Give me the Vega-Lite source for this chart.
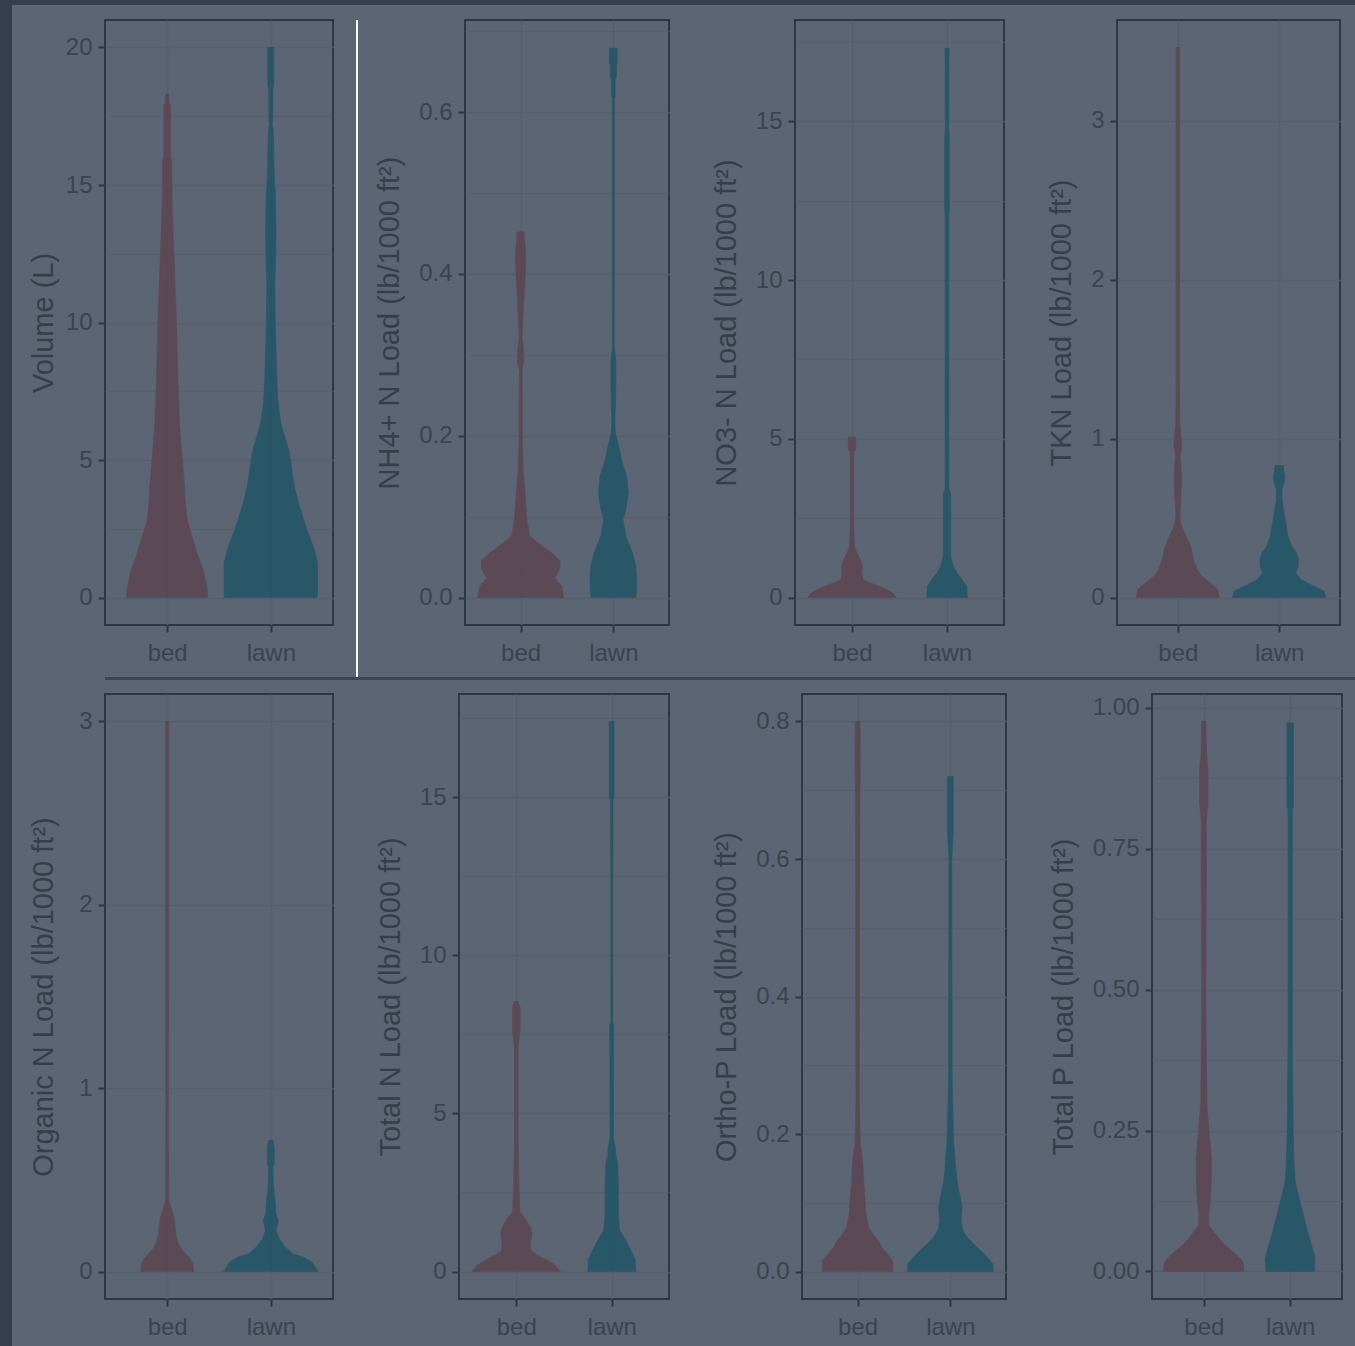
{
"$schema": "https://vega.github.io/schema/vega-lite/v6.json",
"background": "#5c6573",
"padding": 0,
"autosize": {"type": "pad"},
"datasets": {"d": [
{"v":"vol","g":"bed","y":0,"w":0.391},{"v":"vol","g":"bed","y":0.3,"w":0.386},{"v":"vol","g":"bed","y":0.7,"w":0.367},{"v":"vol","g":"bed","y":1.0,"w":0.347},{"v":"vol","g":"bed","y":1.6,"w":0.29},{"v":"vol","g":"bed","y":2.2,"w":0.241},{"v":"vol","g":"bed","y":2.8,"w":0.193},{"v":"vol","g":"bed","y":3.5,"w":0.174},{"v":"vol","g":"bed","y":4.0,"w":0.169},{"v":"vol","g":"bed","y":5.3,"w":0.14},{"v":"vol","g":"bed","y":6.2,"w":0.121},{"v":"vol","g":"bed","y":8.0,"w":0.103},{"v":"vol","g":"bed","y":10.0,"w":0.09},{"v":"vol","g":"bed","y":11.5,"w":0.075},{"v":"vol","g":"bed","y":13.0,"w":0.06},{"v":"vol","g":"bed","y":14.4,"w":0.048},{"v":"vol","g":"bed","y":15.9,"w":0.045},{"v":"vol","g":"bed","y":16.0,"w":0.033},{"v":"vol","g":"bed","y":17.9,"w":0.032},{"v":"vol","g":"bed","y":18.0,"w":0.017},{"v":"vol","g":"bed","y":18.3,"w":0.016},
{"v":"vol","g":"lawn","y":0,"w":0.449},{"v":"vol","g":"lawn","y":0.4,"w":0.451},{"v":"vol","g":"lawn","y":1.27,"w":0.451},{"v":"vol","g":"lawn","y":1.85,"w":0.41},{"v":"vol","g":"lawn","y":2.47,"w":0.347},{"v":"vol","g":"lawn","y":3.45,"w":0.265},{"v":"vol","g":"lawn","y":4.04,"w":0.227},{"v":"vol","g":"lawn","y":5.27,"w":0.179},{"v":"vol","g":"lawn","y":5.8,"w":0.14},{"v":"vol","g":"lawn","y":6.2,"w":0.106},{"v":"vol","g":"lawn","y":6.6,"w":0.087},{"v":"vol","g":"lawn","y":7.2,"w":0.068},{"v":"vol","g":"lawn","y":8.0,"w":0.058},{"v":"vol","g":"lawn","y":10.0,"w":0.043},{"v":"vol","g":"lawn","y":11.5,"w":0.039},{"v":"vol","g":"lawn","y":12.5,"w":0.048},{"v":"vol","g":"lawn","y":13.5,"w":0.05},{"v":"vol","g":"lawn","y":14.8,"w":0.043},{"v":"vol","g":"lawn","y":15.2,"w":0.034},{"v":"vol","g":"lawn","y":16.1,"w":0.029},{"v":"vol","g":"lawn","y":17.0,"w":0.024},{"v":"vol","g":"lawn","y":17.2,"w":0.014},{"v":"vol","g":"lawn","y":17.4,"w":0.019},{"v":"vol","g":"lawn","y":18.5,"w":0.019},{"v":"vol","g":"lawn","y":18.6,"w":0.029},{"v":"vol","g":"lawn","y":20.0,"w":0.029},
{"v":"nh4","g":"bed","y":0,"w":0.464},{"v":"nh4","g":"bed","y":0.014,"w":0.442},{"v":"nh4","g":"bed","y":0.024,"w":0.364},{"v":"nh4","g":"bed","y":0.035,"w":0.421},{"v":"nh4","g":"bed","y":0.045,"w":0.426},{"v":"nh4","g":"bed","y":0.055,"w":0.334},{"v":"nh4","g":"bed","y":0.065,"w":0.216},{"v":"nh4","g":"bed","y":0.076,"w":0.097},{"v":"nh4","g":"bed","y":0.096,"w":0.068},{"v":"nh4","g":"bed","y":0.117,"w":0.054},{"v":"nh4","g":"bed","y":0.137,"w":0.043},{"v":"nh4","g":"bed","y":0.158,"w":0.027},{"v":"nh4","g":"bed","y":0.199,"w":0.016},{"v":"nh4","g":"bed","y":0.228,"w":0.018},{"v":"nh4","g":"bed","y":0.281,"w":0.013},{"v":"nh4","g":"bed","y":0.29,"w":0.032},{"v":"nh4","g":"bed","y":0.305,"w":0.032},{"v":"nh4","g":"bed","y":0.323,"w":0.016},{"v":"nh4","g":"bed","y":0.343,"w":0.024},{"v":"nh4","g":"bed","y":0.384,"w":0.043},{"v":"nh4","g":"bed","y":0.417,"w":0.057},{"v":"nh4","g":"bed","y":0.434,"w":0.049},{"v":"nh4","g":"bed","y":0.452,"w":0.038},
{"v":"nh4","g":"lawn","y":0,"w":0.243},{"v":"nh4","g":"lawn","y":0.022,"w":0.252},{"v":"nh4","g":"lawn","y":0.039,"w":0.243},{"v":"nh4","g":"lawn","y":0.055,"w":0.207},{"v":"nh4","g":"lawn","y":0.076,"w":0.135},{"v":"nh4","g":"lawn","y":0.096,"w":0.104},{"v":"nh4","g":"lawn","y":0.109,"w":0.135},{"v":"nh4","g":"lawn","y":0.129,"w":0.162},{"v":"nh4","g":"lawn","y":0.15,"w":0.144},{"v":"nh4","g":"lawn","y":0.17,"w":0.09},{"v":"nh4","g":"lawn","y":0.191,"w":0.05},{"v":"nh4","g":"lawn","y":0.203,"w":0.022},{"v":"nh4","g":"lawn","y":0.22,"w":0.016},{"v":"nh4","g":"lawn","y":0.24,"w":0.023},{"v":"nh4","g":"lawn","y":0.269,"w":0.027},{"v":"nh4","g":"lawn","y":0.294,"w":0.027},{"v":"nh4","g":"lawn","y":0.31,"w":0.009},{"v":"nh4","g":"lawn","y":0.4,"w":0.011},{"v":"nh4","g":"lawn","y":0.617,"w":0.011},{"v":"nh4","g":"lawn","y":0.62,"w":0.02},{"v":"nh4","g":"lawn","y":0.64,"w":0.02},{"v":"nh4","g":"lawn","y":0.642,"w":0.032},{"v":"nh4","g":"lawn","y":0.658,"w":0.032},{"v":"nh4","g":"lawn","y":0.66,"w":0.041},{"v":"nh4","g":"lawn","y":0.679,"w":0.041},
{"v":"no3","g":"bed","y":0,"w":0.465},{"v":"no3","g":"bed","y":0.15,"w":0.43},{"v":"no3","g":"bed","y":0.3,"w":0.333},{"v":"no3","g":"bed","y":0.46,"w":0.193},{"v":"no3","g":"bed","y":0.57,"w":0.114},{"v":"no3","g":"bed","y":0.78,"w":0.105},{"v":"no3","g":"bed","y":0.98,"w":0.112},{"v":"no3","g":"bed","y":1.19,"w":0.088},{"v":"no3","g":"bed","y":1.4,"w":0.053},{"v":"no3","g":"bed","y":1.56,"w":0.028},{"v":"no3","g":"bed","y":2.14,"w":0.019},{"v":"no3","g":"bed","y":3.71,"w":0.018},{"v":"no3","g":"bed","y":4.6,"w":0.019},{"v":"no3","g":"bed","y":4.65,"w":0.04},{"v":"no3","g":"bed","y":5.05,"w":0.04},
{"v":"no3","g":"lawn","y":0,"w":0.214},{"v":"no3","g":"lawn","y":0.36,"w":0.207},{"v":"no3","g":"lawn","y":0.57,"w":0.158},{"v":"no3","g":"lawn","y":0.78,"w":0.105},{"v":"no3","g":"lawn","y":0.98,"w":0.07},{"v":"no3","g":"lawn","y":1.14,"w":0.053},{"v":"no3","g":"lawn","y":1.3,"w":0.039},{"v":"no3","g":"lawn","y":3.28,"w":0.039},{"v":"no3","g":"lawn","y":3.39,"w":0.021},{"v":"no3","g":"lawn","y":4.23,"w":0.018},{"v":"no3","g":"lawn","y":5.8,"w":0.021},{"v":"no3","g":"lawn","y":6.8,"w":0.021},{"v":"no3","g":"lawn","y":8.0,"w":0.018},{"v":"no3","g":"lawn","y":12.0,"w":0.018},{"v":"no3","g":"lawn","y":12.3,"w":0.025},{"v":"no3","g":"lawn","y":14.5,"w":0.025},{"v":"no3","g":"lawn","y":14.8,"w":0.018},{"v":"no3","g":"lawn","y":17.0,"w":0.02},{"v":"no3","g":"lawn","y":17.3,"w":0.022},
{"v":"tkn","g":"bed","y":0,"w":0.411},{"v":"tkn","g":"bed","y":0.05,"w":0.394},{"v":"tkn","g":"bed","y":0.092,"w":0.32},{"v":"tkn","g":"bed","y":0.134,"w":0.238},{"v":"tkn","g":"bed","y":0.176,"w":0.189},{"v":"tkn","g":"bed","y":0.239,"w":0.155},{"v":"tkn","g":"bed","y":0.302,"w":0.136},{"v":"tkn","g":"bed","y":0.365,"w":0.099},{"v":"tkn","g":"bed","y":0.428,"w":0.052},{"v":"tkn","g":"bed","y":0.47,"w":0.026},{"v":"tkn","g":"bed","y":0.533,"w":0.02},{"v":"tkn","g":"bed","y":0.66,"w":0.033},{"v":"tkn","g":"bed","y":0.742,"w":0.036},{"v":"tkn","g":"bed","y":0.826,"w":0.033},{"v":"tkn","g":"bed","y":0.889,"w":0.02},{"v":"tkn","g":"bed","y":0.95,"w":0.039},{"v":"tkn","g":"bed","y":1.01,"w":0.033},{"v":"tkn","g":"bed","y":1.1,"w":0.02},{"v":"tkn","g":"bed","y":1.37,"w":0.017},{"v":"tkn","g":"bed","y":2.0,"w":0.017},{"v":"tkn","g":"bed","y":3.46,"w":0.017},
{"v":"tkn","g":"lawn","y":0,"w":0.46},{"v":"tkn","g":"lawn","y":0.04,"w":0.444},{"v":"tkn","g":"lawn","y":0.07,"w":0.345},{"v":"tkn","g":"lawn","y":0.113,"w":0.214},{"v":"tkn","g":"lawn","y":0.155,"w":0.164},{"v":"tkn","g":"lawn","y":0.197,"w":0.189},{"v":"tkn","g":"lawn","y":0.239,"w":0.189},{"v":"tkn","g":"lawn","y":0.28,"w":0.173},{"v":"tkn","g":"lawn","y":0.323,"w":0.123},{"v":"tkn","g":"lawn","y":0.386,"w":0.087},{"v":"tkn","g":"lawn","y":0.449,"w":0.071},{"v":"tkn","g":"lawn","y":0.533,"w":0.048},{"v":"tkn","g":"lawn","y":0.617,"w":0.028},{"v":"tkn","g":"lawn","y":0.68,"w":0.028},{"v":"tkn","g":"lawn","y":0.72,"w":0.049},{"v":"tkn","g":"lawn","y":0.76,"w":0.057},{"v":"tkn","g":"lawn","y":0.8,"w":0.046},{"v":"tkn","g":"lawn","y":0.83,"w":0.041},
{"v":"orgn","g":"bed","y":0,"w":0.256},{"v":"orgn","g":"bed","y":0.042,"w":0.248},{"v":"orgn","g":"bed","y":0.069,"w":0.22},{"v":"orgn","g":"bed","y":0.097,"w":0.179},{"v":"orgn","g":"bed","y":0.133,"w":0.122},{"v":"orgn","g":"bed","y":0.187,"w":0.088},{"v":"orgn","g":"bed","y":0.242,"w":0.077},{"v":"orgn","g":"bed","y":0.297,"w":0.065},{"v":"orgn","g":"bed","y":0.34,"w":0.041},{"v":"orgn","g":"bed","y":0.388,"w":0.016},{"v":"orgn","g":"bed","y":0.93,"w":0.013},{"v":"orgn","g":"bed","y":1.48,"w":0.015},{"v":"orgn","g":"bed","y":3.0,"w":0.015},
{"v":"orgn","g":"lawn","y":0,"w":0.456},{"v":"orgn","g":"lawn","y":0.05,"w":0.399},{"v":"orgn","g":"lawn","y":0.08,"w":0.31},{"v":"orgn","g":"lawn","y":0.097,"w":0.212},{"v":"orgn","g":"lawn","y":0.133,"w":0.139},{"v":"orgn","g":"lawn","y":0.178,"w":0.081},{"v":"orgn","g":"lawn","y":0.224,"w":0.052},{"v":"orgn","g":"lawn","y":0.279,"w":0.073},{"v":"orgn","g":"lawn","y":0.315,"w":0.049},{"v":"orgn","g":"lawn","y":0.388,"w":0.041},{"v":"orgn","g":"lawn","y":0.46,"w":0.027},{"v":"orgn","g":"lawn","y":0.57,"w":0.02},{"v":"orgn","g":"lawn","y":0.588,"w":0.033},{"v":"orgn","g":"lawn","y":0.679,"w":0.033},{"v":"orgn","g":"lawn","y":0.716,"w":0.021},
{"v":"totn","g":"bed","y":0,"w":0.463},{"v":"totn","g":"bed","y":0.19,"w":0.41},{"v":"totn","g":"bed","y":0.35,"w":0.332},{"v":"totn","g":"bed","y":0.51,"w":0.227},{"v":"totn","g":"bed","y":0.66,"w":0.154},{"v":"totn","g":"bed","y":0.88,"w":0.148},{"v":"totn","g":"bed","y":1.19,"w":0.166},{"v":"totn","g":"bed","y":1.4,"w":0.148},{"v":"totn","g":"bed","y":1.67,"w":0.096},{"v":"totn","g":"bed","y":1.88,"w":0.037},{"v":"totn","g":"bed","y":3.93,"w":0.019},{"v":"totn","g":"bed","y":7.1,"w":0.019},{"v":"totn","g":"bed","y":7.63,"w":0.04},{"v":"totn","g":"bed","y":8.36,"w":0.04},{"v":"totn","g":"bed","y":8.55,"w":0.019},
{"v":"totn","g":"lawn","y":0,"w":0.251},{"v":"totn","g":"lawn","y":0.4,"w":0.244},{"v":"totn","g":"lawn","y":0.72,"w":0.192},{"v":"totn","g":"lawn","y":1.03,"w":0.14},{"v":"totn","g":"lawn","y":1.3,"w":0.084},{"v":"totn","g":"lawn","y":1.77,"w":0.07},{"v":"totn","g":"lawn","y":2.83,"w":0.07},{"v":"totn","g":"lawn","y":3.46,"w":0.061},{"v":"totn","g":"lawn","y":3.67,"w":0.042},{"v":"totn","g":"lawn","y":3.94,"w":0.038},{"v":"totn","g":"lawn","y":4.2,"w":0.017},{"v":"totn","g":"lawn","y":7.8,"w":0.021},{"v":"totn","g":"lawn","y":7.9,"w":0.009},{"v":"totn","g":"lawn","y":9.2,"w":0.009},{"v":"totn","g":"lawn","y":14.9,"w":0.012},{"v":"totn","g":"lawn","y":15.0,"w":0.025},{"v":"totn","g":"lawn","y":17.4,"w":0.025},
{"v":"orthop","g":"bed","y":0,"w":0.378},{"v":"orthop","g":"bed","y":0.016,"w":0.378},{"v":"orthop","g":"bed","y":0.026,"w":0.318},{"v":"orthop","g":"bed","y":0.035,"w":0.261},{"v":"orthop","g":"bed","y":0.045,"w":0.221},{"v":"orthop","g":"bed","y":0.055,"w":0.162},{"v":"orthop","g":"bed","y":0.064,"w":0.119},{"v":"orthop","g":"bed","y":0.084,"w":0.09},{"v":"orthop","g":"bed","y":0.103,"w":0.081},{"v":"orthop","g":"bed","y":0.127,"w":0.067},{"v":"orthop","g":"bed","y":0.151,"w":0.059},{"v":"orthop","g":"bed","y":0.171,"w":0.045},{"v":"orthop","g":"bed","y":0.185,"w":0.029},{"v":"orthop","g":"bed","y":0.248,"w":0.018},{"v":"orthop","g":"bed","y":0.393,"w":0.02},{"v":"orthop","g":"bed","y":0.55,"w":0.02},{"v":"orthop","g":"bed","y":0.7,"w":0.025},{"v":"orthop","g":"bed","y":0.75,"w":0.03},{"v":"orthop","g":"bed","y":0.8,"w":0.025},
{"v":"orthop","g":"lawn","y":0,"w":0.462},{"v":"orthop","g":"lawn","y":0.011,"w":0.458},{"v":"orthop","g":"lawn","y":0.021,"w":0.396},{"v":"orthop","g":"lawn","y":0.031,"w":0.324},{"v":"orthop","g":"lawn","y":0.04,"w":0.251},{"v":"orthop","g":"lawn","y":0.05,"w":0.18},{"v":"orthop","g":"lawn","y":0.06,"w":0.135},{"v":"orthop","g":"lawn","y":0.074,"w":0.117},{"v":"orthop","g":"lawn","y":0.094,"w":0.126},{"v":"orthop","g":"lawn","y":0.108,"w":0.108},{"v":"orthop","g":"lawn","y":0.127,"w":0.077},{"v":"orthop","g":"lawn","y":0.151,"w":0.057},{"v":"orthop","g":"lawn","y":0.175,"w":0.045},{"v":"orthop","g":"lawn","y":0.19,"w":0.036},{"v":"orthop","g":"lawn","y":0.248,"w":0.025},{"v":"orthop","g":"lawn","y":0.296,"w":0.018},{"v":"orthop","g":"lawn","y":0.393,"w":0.018},{"v":"orthop","g":"lawn","y":0.6,"w":0.016},{"v":"orthop","g":"lawn","y":0.64,"w":0.032},{"v":"orthop","g":"lawn","y":0.72,"w":0.032},
{"v":"totp","g":"bed","y":0,"w":0.467},{"v":"totp","g":"bed","y":0.017,"w":0.453},{"v":"totp","g":"bed","y":0.026,"w":0.405},{"v":"totp","g":"bed","y":0.035,"w":0.338},{"v":"totp","g":"bed","y":0.046,"w":0.251},{"v":"totp","g":"bed","y":0.058,"w":0.177},{"v":"totp","g":"bed","y":0.07,"w":0.12},{"v":"totp","g":"bed","y":0.082,"w":0.058},{"v":"totp","g":"bed","y":0.1,"w":0.058},{"v":"totp","g":"bed","y":0.129,"w":0.077},{"v":"totp","g":"bed","y":0.159,"w":0.087},{"v":"totp","g":"bed","y":0.2,"w":0.09},{"v":"totp","g":"bed","y":0.25,"w":0.06},{"v":"totp","g":"bed","y":0.3,"w":0.035},{"v":"totp","g":"bed","y":0.48,"w":0.023},{"v":"totp","g":"bed","y":0.7,"w":0.03},{"v":"totp","g":"bed","y":0.8,"w":0.029},{"v":"totp","g":"bed","y":0.83,"w":0.049},{"v":"totp","g":"bed","y":0.89,"w":0.049},{"v":"totp","g":"bed","y":0.92,"w":0.032},{"v":"totp","g":"bed","y":0.976,"w":0.023},
{"v":"totp","g":"lawn","y":0,"w":0.28},{"v":"totp","g":"lawn","y":0.023,"w":0.289},{"v":"totp","g":"lawn","y":0.04,"w":0.26},{"v":"totp","g":"lawn","y":0.07,"w":0.203},{"v":"totp","g":"lawn","y":0.1,"w":0.154},{"v":"totp","g":"lawn","y":0.129,"w":0.106},{"v":"totp","g":"lawn","y":0.159,"w":0.058},{"v":"totp","g":"lawn","y":0.19,"w":0.046},{"v":"totp","g":"lawn","y":0.25,"w":0.035},{"v":"totp","g":"lawn","y":0.4,"w":0.025},{"v":"totp","g":"lawn","y":0.82,"w":0.025},{"v":"totp","g":"lawn","y":0.823,"w":0.038},{"v":"totp","g":"lawn","y":0.973,"w":0.038}
]},
"spacing": 0,
"hconcat": [
{"width": 12, "height": 1346, "data": {"values": [{}]}, "mark": {"type": "point", "opacity": 0, "size": 0, "strokeWidth": 0}, "view": {"fill": "#353f50", "stroke": null}},
{"spacing": 0, "vconcat": [
 {"width": 1343, "height": 5, "data": {"values": [{}]}, "mark": {"type": "point", "opacity": 0, "size": 0, "strokeWidth": 0}, "view": {"fill": "#353f50", "stroke": null}},
 {"spacing": 0, "hconcat": [
  {"width": 16, "height": 1, "data": {"values": [{}]}, "mark": {"type": "point", "opacity": 0, "size": 0, "strokeWidth": 0}, "view": {"stroke": null}},
  {"spacing": 0, "vconcat": [
   {"width": 1, "height": 13, "data": {"values": [{}]}, "mark": {"type": "point", "opacity": 0, "size": 0, "strokeWidth": 0}, "view": {"stroke": null}},
   {"spacing": 0, "vconcat": [
    {"spacing": 22, "hconcat": [
     {"width": 228, "height": 605, "data": {"name": "d"}, "transform": [{"filter": "datum.v === 'vol'"}],
      "layer": [
       {"transform": [{"filter": "datum.g === 'bed'"}], "mark": {"type": "area", "orient": "horizontal", "color": "#5b4a55", "stroke": "#5b4a55", "strokeWidth": 0.6, "opacity": 1},
        "encoding": {"y": {"field": "y", "type": "quantitative", "scale": {"domain": [-1, 21], "nice": false, "zero": false},
          "axis": {"title": "Volume (L)", "titlePadding": 7, "values": [0,2.5,5,7.5,10,12.5,15,17.5,20], "format": "d", "labelExpr": "abs(datum.value/5-round(datum.value/5))<1e-6 ? datum.label : ''", "tickOpacity": {"condition": {"test": "abs(datum.value/5-round(datum.value/5))<1e-6", "value": 1}, "value": 0}, "gridWidth": {"condition": {"test": "abs(datum.value/5-round(datum.value/5))<1e-6", "value": 1.5}, "value": 0.8}}},
         "x": {"field": "w", "type": "quantitative", "scale": {"domain": [-0.6, 1.6], "nice": false, "zero": false}, "axis": null}, "x2": {"datum": 0}}},
       {"transform": [{"filter": "datum.g === 'bed'"}], "mark": {"type": "area", "orient": "horizontal", "color": "#5b4a55", "stroke": "#5b4a55", "strokeWidth": 0.6, "opacity": 1},
        "encoding": {"y": {"field": "y", "type": "quantitative"}, "x": {"field": "w", "type": "quantitative", "scale": {"domain": [-1.6, 0.6], "reverse": true, "nice": false, "zero": false}, "axis": null}, "x2": {"datum": 0}}},
       {"transform": [{"filter": "datum.g === 'lawn'"}], "mark": {"type": "area", "orient": "horizontal", "color": "#285868", "stroke": "#285868", "strokeWidth": 0.6, "opacity": 1},
        "encoding": {"y": {"field": "y", "type": "quantitative"}, "x": {"field": "w", "type": "quantitative", "scale": {"domain": [-1.6, 0.6], "nice": false, "zero": false}, "axis": null}, "x2": {"datum": 0}}},
       {"transform": [{"filter": "datum.g === 'lawn'"}], "mark": {"type": "area", "orient": "horizontal", "color": "#285868", "stroke": "#285868", "strokeWidth": 0.6, "opacity": 1},
        "encoding": {"y": {"field": "y", "type": "quantitative"}, "x": {"field": "w", "type": "quantitative", "scale": {"domain": [-0.6, 1.6], "reverse": true, "nice": false, "zero": false}, "axis": null}, "x2": {"datum": 0}}},
       {"mark": {"type": "point", "opacity": 0, "size": 0, "strokeWidth": 0}, "encoding": {"x": {"field": "g", "type": "nominal", "scale": {"type": "point", "domain": ["bed", "lawn"], "padding": 0.6}, "axis": {"title": null, "grid": true, "labelAngle": 0, "labelPadding": 9}}, "y": {"field": "y", "type": "quantitative"}}}
      ], "resolve": {"scale": {"x": "independent"}}},
     {"spacing": 16, "hconcat": [
      {"width": 2, "height": 657, "data": {"values": [{}]}, "mark": {"type": "point", "opacity": 0, "size": 0, "strokeWidth": 0}, "view": {"fill": "#ffffff", "stroke": null}},
      {"spacing": 41, "hconcat": [
     {"width": 204, "height": 605, "data": {"name": "d"}, "transform": [{"filter": "datum.v === 'nh4'"}],
      "layer": [
       {"transform": [{"filter": "datum.g === 'bed'"}], "mark": {"type": "area", "orient": "horizontal", "color": "#5b4a55", "stroke": "#5b4a55", "strokeWidth": 0.6, "opacity": 1},
        "encoding": {"y": {"field": "y", "type": "quantitative", "scale": {"domain": [-0.034, 0.714], "nice": false, "zero": false},
          "axis": {"title": "NH4+ N Load (lb/1000 ft²)", "values": [0,0.1,0.2,0.3,0.4,0.5,0.6,0.7], "format": ".1f", "labelExpr": "abs(datum.value/0.2-round(datum.value/0.2))<1e-6 ? datum.label : ''", "tickOpacity": {"condition": {"test": "abs(datum.value/0.2-round(datum.value/0.2))<1e-6", "value": 1}, "value": 0}, "gridWidth": {"condition": {"test": "abs(datum.value/0.2-round(datum.value/0.2))<1e-6", "value": 1.5}, "value": 0.8}}},
         "x": {"field": "w", "type": "quantitative", "scale": {"domain": [-0.6, 1.6], "nice": false, "zero": false}, "axis": null}, "x2": {"datum": 0}}},
       {"transform": [{"filter": "datum.g === 'bed'"}], "mark": {"type": "area", "orient": "horizontal", "color": "#5b4a55", "stroke": "#5b4a55", "strokeWidth": 0.6, "opacity": 1},
        "encoding": {"y": {"field": "y", "type": "quantitative"}, "x": {"field": "w", "type": "quantitative", "scale": {"domain": [-1.6, 0.6], "reverse": true, "nice": false, "zero": false}, "axis": null}, "x2": {"datum": 0}}},
       {"transform": [{"filter": "datum.g === 'lawn'"}], "mark": {"type": "area", "orient": "horizontal", "color": "#285868", "stroke": "#285868", "strokeWidth": 0.6, "opacity": 1},
        "encoding": {"y": {"field": "y", "type": "quantitative"}, "x": {"field": "w", "type": "quantitative", "scale": {"domain": [-1.6, 0.6], "nice": false, "zero": false}, "axis": null}, "x2": {"datum": 0}}},
       {"transform": [{"filter": "datum.g === 'lawn'"}], "mark": {"type": "area", "orient": "horizontal", "color": "#285868", "stroke": "#285868", "strokeWidth": 0.6, "opacity": 1},
        "encoding": {"y": {"field": "y", "type": "quantitative"}, "x": {"field": "w", "type": "quantitative", "scale": {"domain": [-0.6, 1.6], "reverse": true, "nice": false, "zero": false}, "axis": null}, "x2": {"datum": 0}}},
       {"mark": {"type": "point", "opacity": 0, "size": 0, "strokeWidth": 0}, "encoding": {"x": {"field": "g", "type": "nominal", "scale": {"type": "point", "domain": ["bed", "lawn"], "padding": 0.6}, "axis": {"title": null, "grid": true, "labelAngle": 0, "labelPadding": 9}}, "y": {"field": "y", "type": "quantitative"}}}
      ], "resolve": {"scale": {"x": "independent"}}},
     {"width": 209, "height": 605, "data": {"name": "d"}, "transform": [{"filter": "datum.v === 'no3'"}],
      "layer": [
       {"transform": [{"filter": "datum.g === 'bed'"}], "mark": {"type": "area", "orient": "horizontal", "color": "#5b4a55", "stroke": "#5b4a55", "strokeWidth": 0.6, "opacity": 1},
        "encoding": {"y": {"field": "y", "type": "quantitative", "scale": {"domain": [-0.866, 18.19], "nice": false, "zero": false},
          "axis": {"title": "NO3- N Load (lb/1000 ft²)", "values": [0,2.5,5,7.5,10,12.5,15,17.5], "format": "d", "labelExpr": "abs(datum.value/5-round(datum.value/5))<1e-6 ? datum.label : ''", "tickOpacity": {"condition": {"test": "abs(datum.value/5-round(datum.value/5))<1e-6", "value": 1}, "value": 0}, "gridWidth": {"condition": {"test": "abs(datum.value/5-round(datum.value/5))<1e-6", "value": 1.5}, "value": 0.8}}},
         "x": {"field": "w", "type": "quantitative", "scale": {"domain": [-0.6, 1.6], "nice": false, "zero": false}, "axis": null}, "x2": {"datum": 0}}},
       {"transform": [{"filter": "datum.g === 'bed'"}], "mark": {"type": "area", "orient": "horizontal", "color": "#5b4a55", "stroke": "#5b4a55", "strokeWidth": 0.6, "opacity": 1},
        "encoding": {"y": {"field": "y", "type": "quantitative"}, "x": {"field": "w", "type": "quantitative", "scale": {"domain": [-1.6, 0.6], "reverse": true, "nice": false, "zero": false}, "axis": null}, "x2": {"datum": 0}}},
       {"transform": [{"filter": "datum.g === 'lawn'"}], "mark": {"type": "area", "orient": "horizontal", "color": "#285868", "stroke": "#285868", "strokeWidth": 0.6, "opacity": 1},
        "encoding": {"y": {"field": "y", "type": "quantitative"}, "x": {"field": "w", "type": "quantitative", "scale": {"domain": [-1.6, 0.6], "nice": false, "zero": false}, "axis": null}, "x2": {"datum": 0}}},
       {"transform": [{"filter": "datum.g === 'lawn'"}], "mark": {"type": "area", "orient": "horizontal", "color": "#285868", "stroke": "#285868", "strokeWidth": 0.6, "opacity": 1},
        "encoding": {"y": {"field": "y", "type": "quantitative"}, "x": {"field": "w", "type": "quantitative", "scale": {"domain": [-0.6, 1.6], "reverse": true, "nice": false, "zero": false}, "axis": null}, "x2": {"datum": 0}}},
       {"mark": {"type": "point", "opacity": 0, "size": 0, "strokeWidth": 0}, "encoding": {"x": {"field": "g", "type": "nominal", "scale": {"type": "point", "domain": ["bed", "lawn"], "padding": 0.6}, "axis": {"title": null, "grid": true, "labelAngle": 0, "labelPadding": 9}}, "y": {"field": "y", "type": "quantitative"}}}
      ], "resolve": {"scale": {"x": "independent"}}},
     {"width": 223, "height": 605, "data": {"name": "d"}, "transform": [{"filter": "datum.v === 'tkn'"}],
      "layer": [
       {"transform": [{"filter": "datum.g === 'bed'"}], "mark": {"type": "area", "orient": "horizontal", "color": "#5b4a55", "stroke": "#5b4a55", "strokeWidth": 0.6, "opacity": 1},
        "encoding": {"y": {"field": "y", "type": "quantitative", "scale": {"domain": [-0.173, 3.633], "nice": false, "zero": false},
          "axis": {"title": "TKN Load (lb/1000 ft²)", "values": [0,0.5,1,1.5,2,2.5,3,3.5], "format": "d", "labelExpr": "abs(datum.value-round(datum.value))<1e-6 ? datum.label : ''", "tickOpacity": {"condition": {"test": "abs(datum.value-round(datum.value))<1e-6", "value": 1}, "value": 0}, "gridWidth": {"condition": {"test": "abs(datum.value-round(datum.value))<1e-6", "value": 1.5}, "value": 0.8}}},
         "x": {"field": "w", "type": "quantitative", "scale": {"domain": [-0.6, 1.6], "nice": false, "zero": false}, "axis": null}, "x2": {"datum": 0}}},
       {"transform": [{"filter": "datum.g === 'bed'"}], "mark": {"type": "area", "orient": "horizontal", "color": "#5b4a55", "stroke": "#5b4a55", "strokeWidth": 0.6, "opacity": 1},
        "encoding": {"y": {"field": "y", "type": "quantitative"}, "x": {"field": "w", "type": "quantitative", "scale": {"domain": [-1.6, 0.6], "reverse": true, "nice": false, "zero": false}, "axis": null}, "x2": {"datum": 0}}},
       {"transform": [{"filter": "datum.g === 'lawn'"}], "mark": {"type": "area", "orient": "horizontal", "color": "#285868", "stroke": "#285868", "strokeWidth": 0.6, "opacity": 1},
        "encoding": {"y": {"field": "y", "type": "quantitative"}, "x": {"field": "w", "type": "quantitative", "scale": {"domain": [-1.6, 0.6], "nice": false, "zero": false}, "axis": null}, "x2": {"datum": 0}}},
       {"transform": [{"filter": "datum.g === 'lawn'"}], "mark": {"type": "area", "orient": "horizontal", "color": "#285868", "stroke": "#285868", "strokeWidth": 0.6, "opacity": 1},
        "encoding": {"y": {"field": "y", "type": "quantitative"}, "x": {"field": "w", "type": "quantitative", "scale": {"domain": [-0.6, 1.6], "reverse": true, "nice": false, "zero": false}, "axis": null}, "x2": {"datum": 0}}},
       {"mark": {"type": "point", "opacity": 0, "size": 0, "strokeWidth": 0}, "encoding": {"x": {"field": "g", "type": "nominal", "scale": {"type": "point", "domain": ["bed", "lawn"], "padding": 0.6}, "axis": {"title": null, "grid": true, "labelAngle": 0, "labelPadding": 9}}, "y": {"field": "y", "type": "quantitative"}}}
      ], "resolve": {"scale": {"x": "independent"}}}
      ]}
     ]}
    ]},
    {"spacing": 13, "vconcat": [
     {"width": 1250, "height": 3, "data": {"values": [{}]}, "mark": {"type": "point", "opacity": 0, "size": 0, "strokeWidth": 0}, "view": {"fill": "#3d4655", "stroke": null}},
    {"spacing": 41, "hconcat": [
     {"width": 228, "height": 605, "data": {"name": "d"}, "transform": [{"filter": "datum.v === 'orgn'"}],
      "layer": [
       {"transform": [{"filter": "datum.g === 'bed'"}], "mark": {"type": "area", "orient": "horizontal", "color": "#5b4a55", "stroke": "#5b4a55", "strokeWidth": 0.6, "opacity": 1},
        "encoding": {"y": {"field": "y", "type": "quantitative", "scale": {"domain": [-0.15, 3.15], "nice": false, "zero": false},
          "axis": {"title": "Organic N Load (lb/1000 ft²)", "titlePadding": 20, "values": [0,0.5,1,1.5,2,2.5,3], "format": "d", "labelExpr": "abs(datum.value-round(datum.value))<1e-6 ? datum.label : ''", "tickOpacity": {"condition": {"test": "abs(datum.value-round(datum.value))<1e-6", "value": 1}, "value": 0}, "gridWidth": {"condition": {"test": "abs(datum.value-round(datum.value))<1e-6", "value": 1.5}, "value": 0.8}}},
         "x": {"field": "w", "type": "quantitative", "scale": {"domain": [-0.6, 1.6], "nice": false, "zero": false}, "axis": null}, "x2": {"datum": 0}}},
       {"transform": [{"filter": "datum.g === 'bed'"}], "mark": {"type": "area", "orient": "horizontal", "color": "#5b4a55", "stroke": "#5b4a55", "strokeWidth": 0.6, "opacity": 1},
        "encoding": {"y": {"field": "y", "type": "quantitative"}, "x": {"field": "w", "type": "quantitative", "scale": {"domain": [-1.6, 0.6], "reverse": true, "nice": false, "zero": false}, "axis": null}, "x2": {"datum": 0}}},
       {"transform": [{"filter": "datum.g === 'lawn'"}], "mark": {"type": "area", "orient": "horizontal", "color": "#285868", "stroke": "#285868", "strokeWidth": 0.6, "opacity": 1},
        "encoding": {"y": {"field": "y", "type": "quantitative"}, "x": {"field": "w", "type": "quantitative", "scale": {"domain": [-1.6, 0.6], "nice": false, "zero": false}, "axis": null}, "x2": {"datum": 0}}},
       {"transform": [{"filter": "datum.g === 'lawn'"}], "mark": {"type": "area", "orient": "horizontal", "color": "#285868", "stroke": "#285868", "strokeWidth": 0.6, "opacity": 1},
        "encoding": {"y": {"field": "y", "type": "quantitative"}, "x": {"field": "w", "type": "quantitative", "scale": {"domain": [-0.6, 1.6], "reverse": true, "nice": false, "zero": false}, "axis": null}, "x2": {"datum": 0}}},
       {"mark": {"type": "point", "opacity": 0, "size": 0, "strokeWidth": 0}, "encoding": {"x": {"field": "g", "type": "nominal", "scale": {"type": "point", "domain": ["bed", "lawn"], "padding": 0.6}, "axis": {"title": null, "grid": true, "labelAngle": 0, "labelPadding": 9}}, "y": {"field": "y", "type": "quantitative"}}}
      ], "resolve": {"scale": {"x": "independent"}}},
     {"width": 210, "height": 605, "data": {"name": "d"}, "transform": [{"filter": "datum.v === 'totn'"}],
      "layer": [
       {"transform": [{"filter": "datum.g === 'bed'"}], "mark": {"type": "area", "orient": "horizontal", "color": "#5b4a55", "stroke": "#5b4a55", "strokeWidth": 0.6, "opacity": 1},
        "encoding": {"y": {"field": "y", "type": "quantitative", "scale": {"domain": [-0.87, 18.27], "nice": false, "zero": false},
          "axis": {"title": "Total N Load (lb/1000 ft²)", "values": [0,2.5,5,7.5,10,12.5,15,17.5], "format": "d", "labelExpr": "abs(datum.value/5-round(datum.value/5))<1e-6 ? datum.label : ''", "tickOpacity": {"condition": {"test": "abs(datum.value/5-round(datum.value/5))<1e-6", "value": 1}, "value": 0}, "gridWidth": {"condition": {"test": "abs(datum.value/5-round(datum.value/5))<1e-6", "value": 1.5}, "value": 0.8}}},
         "x": {"field": "w", "type": "quantitative", "scale": {"domain": [-0.6, 1.6], "nice": false, "zero": false}, "axis": null}, "x2": {"datum": 0}}},
       {"transform": [{"filter": "datum.g === 'bed'"}], "mark": {"type": "area", "orient": "horizontal", "color": "#5b4a55", "stroke": "#5b4a55", "strokeWidth": 0.6, "opacity": 1},
        "encoding": {"y": {"field": "y", "type": "quantitative"}, "x": {"field": "w", "type": "quantitative", "scale": {"domain": [-1.6, 0.6], "reverse": true, "nice": false, "zero": false}, "axis": null}, "x2": {"datum": 0}}},
       {"transform": [{"filter": "datum.g === 'lawn'"}], "mark": {"type": "area", "orient": "horizontal", "color": "#285868", "stroke": "#285868", "strokeWidth": 0.6, "opacity": 1},
        "encoding": {"y": {"field": "y", "type": "quantitative"}, "x": {"field": "w", "type": "quantitative", "scale": {"domain": [-1.6, 0.6], "nice": false, "zero": false}, "axis": null}, "x2": {"datum": 0}}},
       {"transform": [{"filter": "datum.g === 'lawn'"}], "mark": {"type": "area", "orient": "horizontal", "color": "#285868", "stroke": "#285868", "strokeWidth": 0.6, "opacity": 1},
        "encoding": {"y": {"field": "y", "type": "quantitative"}, "x": {"field": "w", "type": "quantitative", "scale": {"domain": [-0.6, 1.6], "reverse": true, "nice": false, "zero": false}, "axis": null}, "x2": {"datum": 0}}},
       {"mark": {"type": "point", "opacity": 0, "size": 0, "strokeWidth": 0}, "encoding": {"x": {"field": "g", "type": "nominal", "scale": {"type": "point", "domain": ["bed", "lawn"], "padding": 0.6}, "axis": {"title": null, "grid": true, "labelAngle": 0, "labelPadding": 9}}, "y": {"field": "y", "type": "quantitative"}}}
      ], "resolve": {"scale": {"x": "independent"}}},
     {"width": 204, "height": 605, "data": {"name": "d"}, "transform": [{"filter": "datum.v === 'orthop'"}],
      "layer": [
       {"transform": [{"filter": "datum.g === 'bed'"}], "mark": {"type": "area", "orient": "horizontal", "color": "#5b4a55", "stroke": "#5b4a55", "strokeWidth": 0.6, "opacity": 1},
        "encoding": {"y": {"field": "y", "type": "quantitative", "scale": {"domain": [-0.04, 0.84], "nice": false, "zero": false},
          "axis": {"title": "Ortho-P Load (lb/1000 ft²)", "values": [0,0.1,0.2,0.3,0.4,0.5,0.6,0.7,0.8], "format": ".1f", "labelExpr": "abs(datum.value/0.2-round(datum.value/0.2))<1e-6 ? datum.label : ''", "tickOpacity": {"condition": {"test": "abs(datum.value/0.2-round(datum.value/0.2))<1e-6", "value": 1}, "value": 0}, "gridWidth": {"condition": {"test": "abs(datum.value/0.2-round(datum.value/0.2))<1e-6", "value": 1.5}, "value": 0.8}}},
         "x": {"field": "w", "type": "quantitative", "scale": {"domain": [-0.6, 1.6], "nice": false, "zero": false}, "axis": null}, "x2": {"datum": 0}}},
       {"transform": [{"filter": "datum.g === 'bed'"}], "mark": {"type": "area", "orient": "horizontal", "color": "#5b4a55", "stroke": "#5b4a55", "strokeWidth": 0.6, "opacity": 1},
        "encoding": {"y": {"field": "y", "type": "quantitative"}, "x": {"field": "w", "type": "quantitative", "scale": {"domain": [-1.6, 0.6], "reverse": true, "nice": false, "zero": false}, "axis": null}, "x2": {"datum": 0}}},
       {"transform": [{"filter": "datum.g === 'lawn'"}], "mark": {"type": "area", "orient": "horizontal", "color": "#285868", "stroke": "#285868", "strokeWidth": 0.6, "opacity": 1},
        "encoding": {"y": {"field": "y", "type": "quantitative"}, "x": {"field": "w", "type": "quantitative", "scale": {"domain": [-1.6, 0.6], "nice": false, "zero": false}, "axis": null}, "x2": {"datum": 0}}},
       {"transform": [{"filter": "datum.g === 'lawn'"}], "mark": {"type": "area", "orient": "horizontal", "color": "#285868", "stroke": "#285868", "strokeWidth": 0.6, "opacity": 1},
        "encoding": {"y": {"field": "y", "type": "quantitative"}, "x": {"field": "w", "type": "quantitative", "scale": {"domain": [-0.6, 1.6], "reverse": true, "nice": false, "zero": false}, "axis": null}, "x2": {"datum": 0}}},
       {"mark": {"type": "point", "opacity": 0, "size": 0, "strokeWidth": 0}, "encoding": {"x": {"field": "g", "type": "nominal", "scale": {"type": "point", "domain": ["bed", "lawn"], "padding": 0.6}, "axis": {"title": null, "grid": true, "labelAngle": 0, "labelPadding": 9}}, "y": {"field": "y", "type": "quantitative"}}}
      ], "resolve": {"scale": {"x": "independent"}}},
     {"width": 190, "height": 605, "data": {"name": "d"}, "transform": [{"filter": "datum.v === 'totp'"}],
      "layer": [
       {"transform": [{"filter": "datum.g === 'bed'"}], "mark": {"type": "area", "orient": "horizontal", "color": "#5b4a55", "stroke": "#5b4a55", "strokeWidth": 0.6, "opacity": 1},
        "encoding": {"y": {"field": "y", "type": "quantitative", "scale": {"domain": [-0.0488, 1.0244], "nice": false, "zero": false},
          "axis": {"title": "Total P Load (lb/1000 ft²)", "values": [0,0.125,0.25,0.375,0.5,0.625,0.75,0.875,1], "format": ".2f", "labelExpr": "abs(datum.value/0.25-round(datum.value/0.25))<1e-6 ? datum.label : ''", "tickOpacity": {"condition": {"test": "abs(datum.value/0.25-round(datum.value/0.25))<1e-6", "value": 1}, "value": 0}, "gridWidth": {"condition": {"test": "abs(datum.value/0.25-round(datum.value/0.25))<1e-6", "value": 1.5}, "value": 0.8}}},
         "x": {"field": "w", "type": "quantitative", "scale": {"domain": [-0.6, 1.6], "nice": false, "zero": false}, "axis": null}, "x2": {"datum": 0}}},
       {"transform": [{"filter": "datum.g === 'bed'"}], "mark": {"type": "area", "orient": "horizontal", "color": "#5b4a55", "stroke": "#5b4a55", "strokeWidth": 0.6, "opacity": 1},
        "encoding": {"y": {"field": "y", "type": "quantitative"}, "x": {"field": "w", "type": "quantitative", "scale": {"domain": [-1.6, 0.6], "reverse": true, "nice": false, "zero": false}, "axis": null}, "x2": {"datum": 0}}},
       {"transform": [{"filter": "datum.g === 'lawn'"}], "mark": {"type": "area", "orient": "horizontal", "color": "#285868", "stroke": "#285868", "strokeWidth": 0.6, "opacity": 1},
        "encoding": {"y": {"field": "y", "type": "quantitative"}, "x": {"field": "w", "type": "quantitative", "scale": {"domain": [-1.6, 0.6], "nice": false, "zero": false}, "axis": null}, "x2": {"datum": 0}}},
       {"transform": [{"filter": "datum.g === 'lawn'"}], "mark": {"type": "area", "orient": "horizontal", "color": "#285868", "stroke": "#285868", "strokeWidth": 0.6, "opacity": 1},
        "encoding": {"y": {"field": "y", "type": "quantitative"}, "x": {"field": "w", "type": "quantitative", "scale": {"domain": [-0.6, 1.6], "reverse": true, "nice": false, "zero": false}, "axis": null}, "x2": {"datum": 0}}},
       {"mark": {"type": "point", "opacity": 0, "size": 0, "strokeWidth": 0}, "encoding": {"x": {"field": "g", "type": "nominal", "scale": {"type": "point", "domain": ["bed", "lawn"], "padding": 0.6}, "axis": {"title": null, "grid": true, "labelAngle": 0, "labelPadding": 9}}, "y": {"field": "y", "type": "quantitative"}}}
      ], "resolve": {"scale": {"x": "independent"}}}
    ]}
    ]}
   ]}
  ]}
 ]}
]}
],
"config": {
 "view": {"stroke": "#2f3745", "strokeWidth": 2},
 "axis": {"labelFont": "Liberation Sans", "labelFontSize": 24, "labelColor": "#3b4351", "titleFont": "Liberation Sans", "titleFontSize": 29, "titleFontWeight": "normal", "titleColor": "#363e4c", "tickSize": 7, "tickWidth": 2, "tickColor": "#2f3745", "labelPadding": 6, "titlePadding": 14, "domain": false, "gridColor": "#565f6c", "gridWidth": 1.5, "labelOverlap": false}
}
}
